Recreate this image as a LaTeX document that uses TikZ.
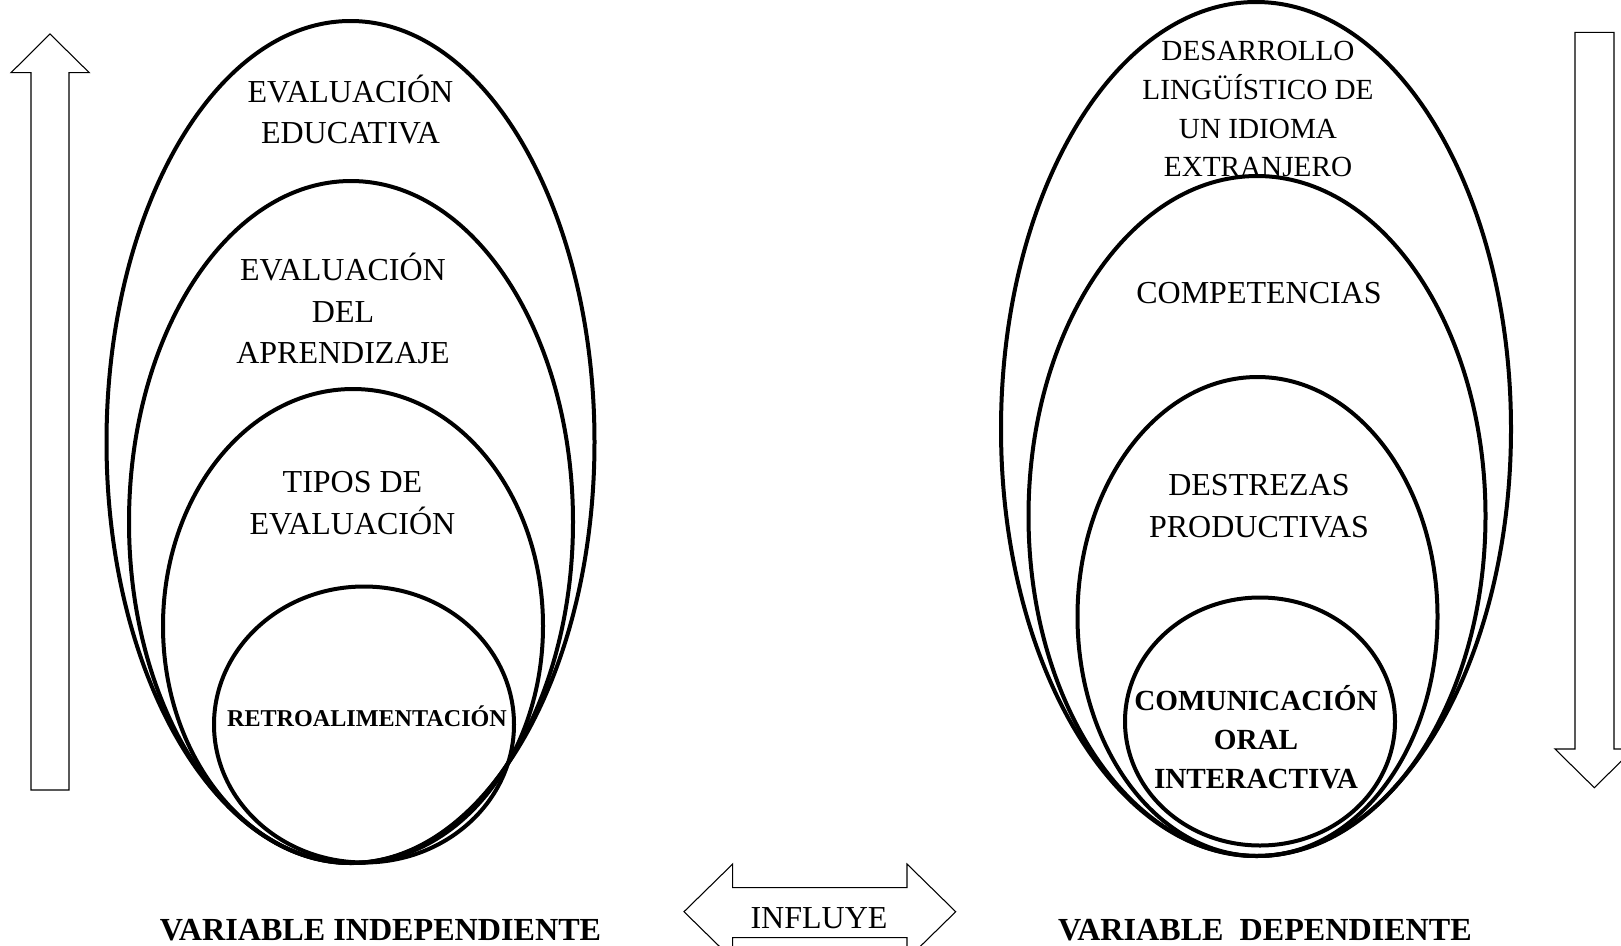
\documentclass[tikz,border=0pt]{standalone}
\usepackage{fontspec}
\setmainfont{Liberation Serif}
\begin{document}
\begin{tikzpicture}[x=0.75pt,y=-0.75pt,
  oval/.style={line width=3pt},
  bigarrow/.style={draw=black,line width=0.8pt,fill=white,line join=miter},
  txt/.style={anchor=base,inner sep=0pt,font=\fontsize{24}{28}\selectfont},
  stxt/.style={anchor=base,inner sep=0pt,font=\fontsize{21.9}{26}\selectfont},
  btxt/.style={anchor=base,inner sep=0pt,font=\fontsize{21.9}{26}\selectfont\bfseries},
  rtxt/.style={anchor=base,inner sep=0pt,font=\fontsize{18.1}{21}\selectfont\bfseries},
  vtxt/.style={anchor=base,inner sep=0pt,font=\fontsize{24.1}{28}\selectfont\bfseries}]
\useasboundingbox (0,0) rectangle (1621,946);
% left ovals
\draw[oval] (350.5,442) ellipse [x radius=244, y radius=421];
\draw[oval] (351,522) ellipse [x radius=222, y radius=341];
\draw[oval] (353,626) ellipse [x radius=190, y radius=237];
\draw[oval] (364,724.5) ellipse [x radius=150, y radius=138];
% right ovals
\draw[oval] (1256,429) ellipse [x radius=255, y radius=427];
\draw[oval] (1257,516) ellipse [x radius=228.5, y radius=340];
\draw[oval] (1257.5,616.5) ellipse [x radius=180, y radius=239.5];
\draw[oval] (1260,721.5) ellipse [x radius=135, y radius=124];
% side arrows
\draw[bigarrow] (31,790) -- (31,72.7) -- (11,72.7) -- (50,34) -- (89.3,72.7) -- (69,72.7) -- (69,790) -- cycle;
\draw[bigarrow] (1575,32.3) -- (1614,32.3) -- (1614,749) -- (1633.6,749) -- (1594.3,787.7) -- (1555,749) -- (1575,749) -- cycle;
% influye arrow
\draw[bigarrow] (684,911.7) -- (732.7,864) -- (732.7,887.7) -- (907,887.7) -- (907,864) -- (955.7,911.7) -- (907,959.4) -- (907,937.7) -- (732.7,937.7) -- (732.7,959.4) -- cycle;
\node[txt] (infl) at (819,928.5) {INFLUYE};
% left texts
\node[txt] (l1a) at (350.5,102.3) {EVALUACIÓN};
\node[txt] (l1b) at (350.5,143.7) {EDUCATIVA};
\node[txt] (l2a) at (343,280.3) {EVALUACIÓN};
\node[txt] (l2b) at (343,322.3) {DEL};
\node[txt] (l2c) at (343,363.8) {APRENDIZAJE};
\node[txt] (l3a) at (352.5,492) {TIPOS DE};
\node[txt] (l3b) at (352.5,534.3) {EVALUACIÓN};
\node[rtxt] (l4) at (367,726.2) {RETROALIMENTACIÓN};
% right texts
\node[stxt] (r1a) at (1258,60.5) {DESARROLLO};
\node[stxt] (r1b) at (1258,99.8) {LINGÜÍSTICO DE};
\node[stxt] (r1c) at (1258,138.8) {UN IDIOMA};
\node[stxt] (r1d) at (1258,176.2) {EXTRANJERO};
\node[txt] (r2) at (1259,303) {COMPETENCIAS};
\node[txt] (r3a) at (1259,495.3) {DESTREZAS};
\node[txt] (r3b) at (1259,537.3) {PRODUCTIVAS};
\node[btxt] (r4a) at (1256,710.7) {COMUNICACIÓN};
\node[btxt] (r4b) at (1256,749.7) {ORAL};
\node[btxt] (r4c) at (1256,788.2) {INTERACTIVA};
% captions
\node[vtxt] (vi) at (380.5,940.3) {VARIABLE INDEPENDIENTE};
\node[vtxt] (vd) at (1265,940.3) {VARIABLE\ \ DEPENDIENTE};
\end{tikzpicture}
\end{document}
